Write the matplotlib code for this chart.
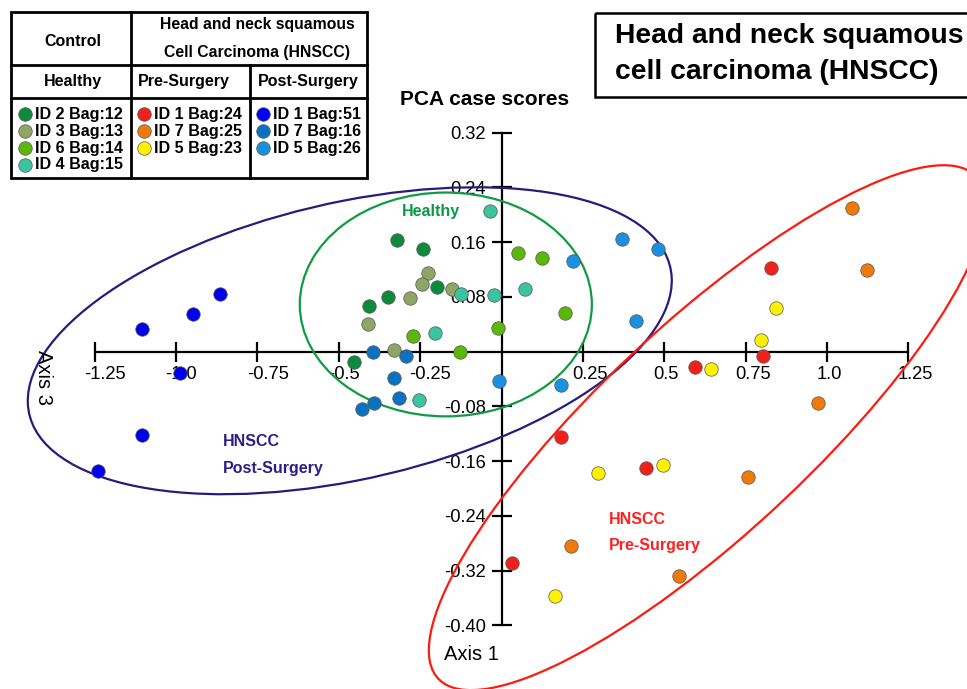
import matplotlib.pyplot as plt
from matplotlib.patches import Ellipse, Rectangle

plt.rcParams['font.family'] = ['Liberation Sans', 'DejaVu Sans']

# PCA case scores: Axis 3 (horizontal) vs Axis 1 (vertical)
# Control / Healthy
id2_bag12_x = [-0.322, -0.240, -0.197, -0.348, -0.407, -0.452]
id2_bag12_y = [0.163, 0.150, 0.095, 0.080, 0.067, -0.015]
id3_bag13_x = [-0.225, -0.245, -0.151, -0.281, -0.411, -0.329]
id3_bag13_y = [0.115, 0.099, 0.091, 0.079, 0.041, 0.002]
id6_bag14_x = [0.050, 0.124, 0.196, -0.012, -0.271, -0.128]
id6_bag14_y = [0.144, 0.137, 0.056, 0.034, 0.023, -0.001]
id4_bag15_x = [-0.035, 0.072, -0.022, -0.124, -0.204, -0.253]
id4_bag15_y = [0.206, 0.092, 0.083, 0.084, 0.027, -0.071]
# HNSCC pre-surgery
id1_bag24_x = [0.828, 0.804, 0.594, 0.184, 0.443, 0.033]
id1_bag24_y = [0.122, -0.007, -0.023, -0.124, -0.170, -0.308]
id7_bag25_x = [1.076, 1.124, 0.973, 0.756, 0.214, 0.546]
id7_bag25_y = [0.210, 0.119, -0.075, -0.183, -0.284, -0.327]
id5_bag23_x = [0.844, 0.797, 0.644, 0.297, 0.496, 0.165]
id5_bag23_y = [0.064, 0.017, -0.026, -0.177, -0.165, -0.357]
# HNSCC post-surgery
id1_bag51_x = [-0.865, -0.947, -1.105, -0.987, -1.105, -1.240]
id1_bag51_y = [0.085, 0.055, 0.033, -0.031, -0.121, -0.174]
id7_bag16_x = [-0.396, -0.294, -0.330, -0.315, -0.392, -0.429]
id7_bag16_y = [-0.001, -0.006, -0.038, -0.067, -0.075, -0.084]
id5_bag26_x = [0.221, 0.369, 0.482, 0.413, 0.182, -0.009]
id5_bag26_y = [0.133, 0.165, 0.150, 0.045, -0.049, -0.043]

series_labels = ['ID 2 Bag:12', 'ID 3 Bag:13', 'ID 6 Bag:14', 'ID 4 Bag:15',
                 'ID 1 Bag:24', 'ID 7 Bag:25', 'ID 5 Bag:23',
                 'ID 1 Bag:51', 'ID 7 Bag:16', 'ID 5 Bag:26']
series_colors = ['#0e8a3c', '#8fa565', '#5cb808', '#3cc4a0',
                 '#f0201a', '#f07a08', '#fff000',
                 '#0000f0', '#0a72c0', '#1a90e0']

# group ellipses (Healthy, Post-Surgery, Pre-Surgery)
ellipse_cx = [-0.171, -0.466, 0.632]
ellipse_cy = [0.069, 0.016, -0.111]
ellipse_w = [0.897, 1.986, 1.836]
ellipse_h = [0.327, 0.411, 0.378]
ellipse_angle = [0.0, 5.3, 21.8]
ellipse_colors = ['#119a44', '#2a1a7c', '#ff1a10']

xticks = [-1.25, -1.0, -0.75, -0.5, -0.25, 0.25, 0.5, 0.75, 1.0, 1.25]
xtick_labels = ['-1.25', '-1.0', '-0.75', '-0.5', '-0.25', '0.25', '0.5', '0.75', '1.0', '1.25']
yticks = [0.32, 0.24, 0.16, 0.08, -0.08, -0.16, -0.24, -0.32, -0.40]
ytick_labels = ['0.32', '0.24', '0.16', '0.08', '-0.08', '-0.16', '-0.24', '-0.32', '-0.40']

xs = [id2_bag12_x, id3_bag13_x, id6_bag14_x, id4_bag15_x,
      id1_bag24_x, id7_bag25_x, id5_bag23_x,
      id1_bag51_x, id7_bag16_x, id5_bag26_x]
ys = [id2_bag12_y, id3_bag13_y, id6_bag14_y, id4_bag15_y,
      id1_bag24_y, id7_bag25_y, id5_bag23_y,
      id1_bag51_y, id7_bag16_y, id5_bag26_y]

fig = plt.figure(figsize=(9.67, 6.89), dpi=100)
ax = fig.add_axes([0, 0, 1, 1])
ax.set_xlim(-1.5403, 1.4297)
ax.set_ylim(-0.4928, 0.5138)

# crossing axes at the origin
for side in ['top', 'right']:
    ax.spines[side].set_visible(False)
ax.spines['left'].set_position(('data', 0))
ax.spines['bottom'].set_position(('data', 0))
ax.spines['left'].set_bounds(-0.40, 0.32)
ax.spines['bottom'].set_bounds(-1.25, 1.25)
for side in ['left', 'bottom']:
    ax.spines[side].set_linewidth(1.6)

ax.set_xticks(xticks, labels=[])
ax.set_yticks(yticks, labels=ytick_labels)
ax.tick_params(direction='inout', length=15, width=1.6, labelsize=13.2)
ax.tick_params(axis='y', pad=4)
for xv, lab in zip(xticks, xtick_labels):
    ax.annotate(lab, (xv, 0), xytext=(-7.6, -10), textcoords='offset points',
                ha='left', va='top', fontsize=13.2)

for cx, cy, w, h, a, c in zip(ellipse_cx, ellipse_cy, ellipse_w, ellipse_h,
                              ellipse_angle, ellipse_colors):
    ax.add_patch(Ellipse((cx, cy), w, h, angle=a, fill=False,
                         edgecolor=c, linewidth=1.6, zorder=3))

for x, y, c in zip(xs, ys, series_colors):
    ax.scatter(x, y, s=94, color=c, edgecolor='#555555', linewidth=0.5, zorder=4)

# overlay in pixel units for the annotations, legend table and title box
ov = fig.add_axes([0, 0, 1, 1])
ov.set_xlim(0, 967)
ov.set_ylim(689, 0)
ov.axis('off')

ov.text(485, 105, 'PCA case scores', ha='center', va='baseline',
        fontsize=15, fontweight='bold')
ov.text(471, 660, 'Axis 1', ha='center', va='baseline', fontsize=14.5)
ov.text(43.5, 377.5, 'Axis 3', ha='center', va='center', rotation=-90, fontsize=14.5)

ov.text(430.5, 211.5, 'Healthy', ha='center', va='center', fontsize=11.5,
        fontweight='bold', color='#0a9a45')
ov.text(223, 445.5, 'HNSCC', ha='left', va='baseline', fontsize=11.5,
        fontweight='bold', color='#2d1d88')
ov.text(223, 472.5, 'Post-Surgery', ha='left', va='baseline', fontsize=11.5,
        fontweight='bold', color='#2d1d88')
ov.text(609, 523.5, 'HNSCC', ha='left', va='baseline', fontsize=11.5,
        fontweight='bold', color='#ff2020')
ov.text(609, 550, 'Pre-Surgery', ha='left', va='baseline', fontsize=11.5,
        fontweight='bold', color='#ff2020')

# title box
ov.add_patch(Rectangle((595, 13), 390, 84, fill=False, edgecolor='black', linewidth=1.8))
ov.text(615, 43, 'Head and neck squamous', ha='left', va='baseline',
        fontsize=20.3, fontweight='bold')
ov.text(615, 79, 'cell carcinoma (HNSCC)', ha='left', va='baseline',
        fontsize=20.3, fontweight='bold')

# legend table
lw = 2
ov.add_patch(Rectangle((11, 12), 356, 166, fill=False, edgecolor='black', linewidth=lw))
ov.plot([131, 131], [12, 178], color='black', linewidth=lw)
ov.plot([250, 250], [65, 178], color='black', linewidth=lw)
ov.plot([11, 367], [65, 65], color='black', linewidth=lw)
ov.plot([11, 367], [98, 98], color='black', linewidth=lw)

ov.text(73, 41.5, 'Control', ha='center', va='center', fontsize=11.5, fontweight='bold')
ov.text(257.5, 25, 'Head and neck squamous', ha='center', va='center',
        fontsize=11.3, fontweight='bold')
ov.text(257.5, 52, 'Cell Carcinoma (HNSCC)', ha='center', va='center',
        fontsize=11.3, fontweight='bold')
ov.text(73, 81.5, 'Healthy', ha='center', va='center', fontsize=11.5, fontweight='bold')
ov.text(184, 81.5, 'Pre-Surgery', ha='center', va='center', fontsize=11.5, fontweight='bold')
ov.text(308, 81.5, 'Post-Surgery', ha='center', va='center', fontsize=11.5, fontweight='bold')

col_marker_x = [25, 143.5, 263]
col_of_series = [0, 0, 0, 0, 1, 1, 1, 2, 2, 2]
row_of_series = [0, 1, 2, 3, 0, 1, 2, 0, 1, 2]
for lab, c, col, row in zip(series_labels, series_colors, col_of_series, row_of_series):
    yy = 114.3 + row * 16.9
    ov.scatter([col_marker_x[col]], [yy], s=95, color=c, edgecolor='#555555',
               linewidth=0.5, zorder=4)
    ov.text(col_marker_x[col] + 10, yy, lab, ha='left', va='center',
            fontsize=11.6, fontweight='bold')

fig.savefig('out.png', dpi=100)
